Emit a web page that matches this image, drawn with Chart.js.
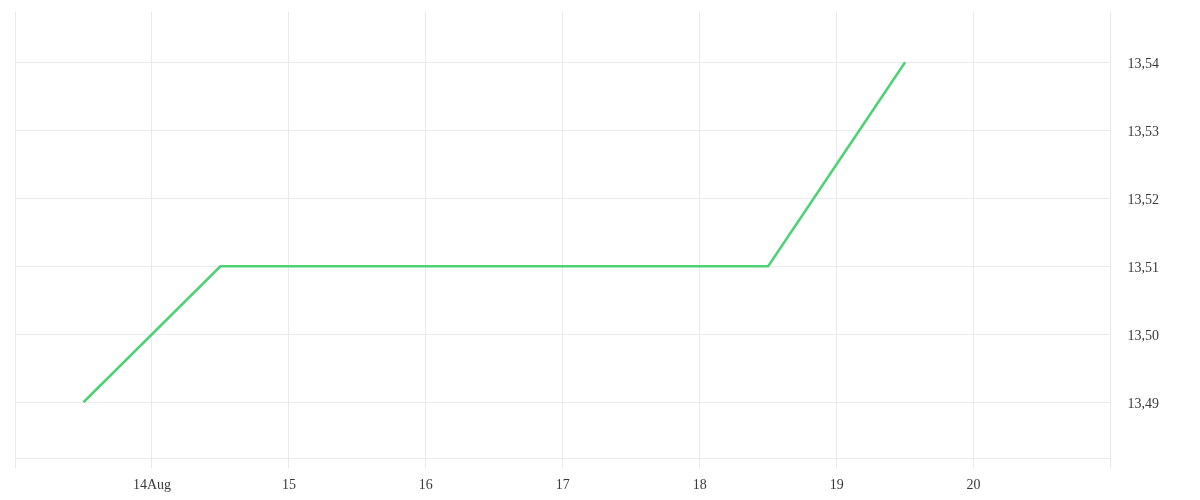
<!DOCTYPE html>
<html>
<head>
<meta charset="utf-8">
<script src="https://cdn.jsdelivr.net/npm/chart.js@4"></script>
<style>
  html, body { margin: 0; padding: 0; background: #fff; }
  #wrap { width: 1200px; height: 500px; position: relative; }
</style>
</head>
<body>
<div id="wrap"><canvas id="rateChart"></canvas></div>
<script>
// days in August (noon = .5)
const days = [13.5, 14.5, 15.5, 16.5, 17.5, 18.5, 19.5];
const rates = [13.49, 13.51, 13.51, 13.51, 13.51, 13.51, 13.54];
const xTicks = [13, 14, 15, 16, 17, 18, 19, 20, 21];
const yMin = 13.4818;
const yMax = 13.5474;

const gridColor = "#ebebeb";
const textColor = "#3a3a3a";

const points = days.map((d, i) => ({ x: d, y: rates[i] }));

const ctx = document.getElementById("rateChart").getContext("2d");

new Chart(ctx, {
    type: "line",
    data: {
        datasets: [{
            data: points,
            borderColor: "#4cd274",
            borderWidth: 2.5,
            pointRadius: 0,
            tension: 0,
            fill: false
        }]
    },
    options: {
        responsive: true,
        maintainAspectRatio: false,
        animation: false,
        layout: {
            padding: { top: 12, left: 15, right: 24, bottom: 0 }
        },
        plugins: {
            legend: { display: false },
            tooltip: { enabled: false }
        },
        scales: {
            x: {
                type: "linear",
                min: 13,
                max: 21,
                afterBuildTicks: axis => {
                    axis.ticks = xTicks.map(v => ({ value: v }));
                },
                afterFit: scale => {
                    scale.height = 42;
                },
                grid: {
                    color: gridColor,
                    tickLength: 10,
                    tickColor: gridColor
                },
                border: { color: gridColor },
                ticks: {
                    color: textColor,
                    font: { family: "'Liberation Serif'", size: 14 },
                    padding: 9,
                    maxRotation: 0,
                    callback: v => {
                        if (v === 13 || v === 21) return "";
                        if (v === 14) return "14Aug";
                        return String(v);
                    }
                }
            },
            y: {
                position: "right",
                min: yMin,
                max: yMax,
                afterFit: scale => {
                    scale.paddingTop = 0;
                    scale.paddingBottom = 0;
                },
                grid: {
                    color: gridColor,
                    drawTicks: false
                },
                border: { color: gridColor },
                ticks: {
                    stepSize: 0.01,
                    includeBounds: false,
                    color: textColor,
                    padding: 17,
                    labelOffset: 2,
                    font: { family: "'Liberation Serif'", size: 14 },
                    callback: v => v.toFixed(2).replace(".", ",")
                }
            }
        }
    }
});
</script>
</body>
</html>
